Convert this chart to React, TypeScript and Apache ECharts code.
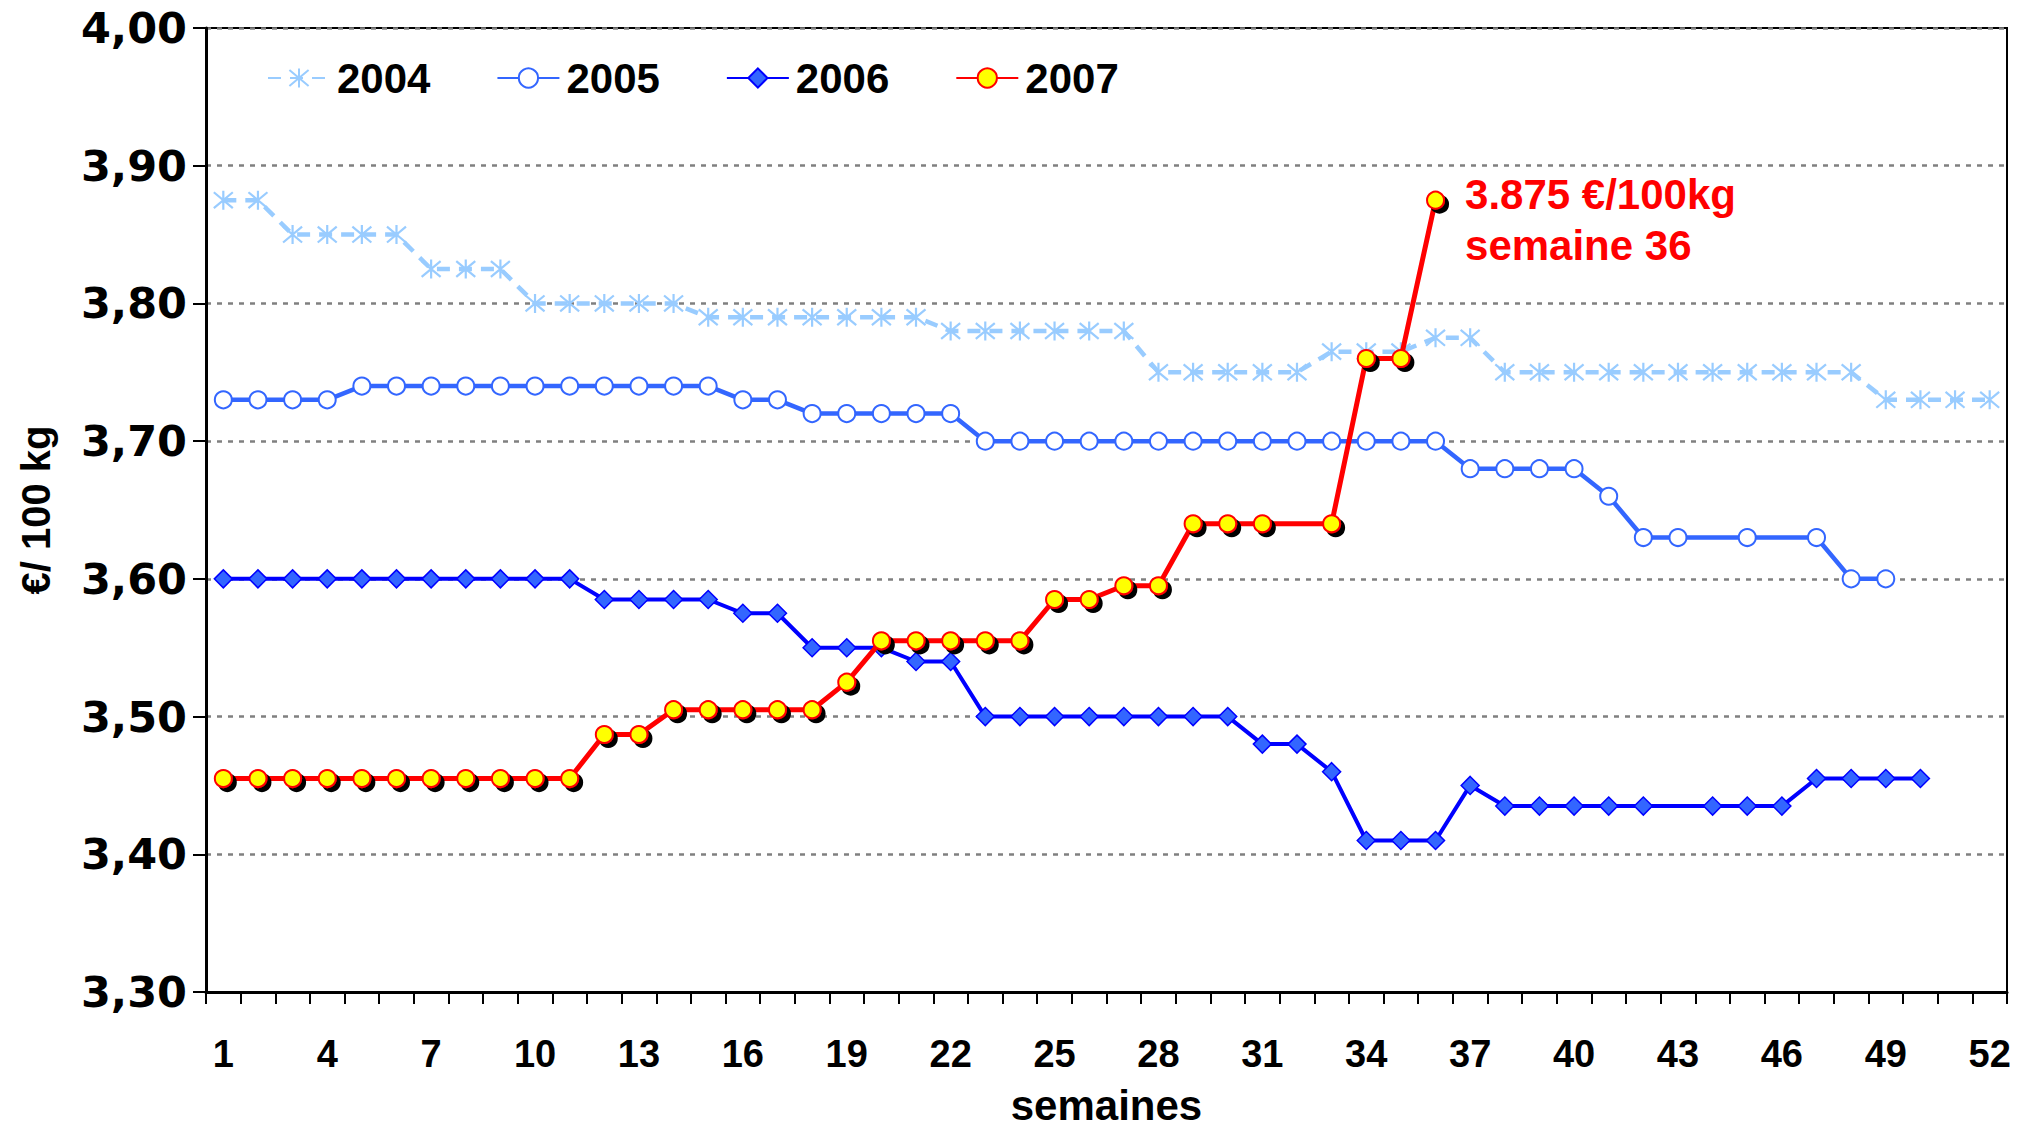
import React, { useEffect, useRef } from "react";
import * as echarts from "echarts";

const weeks = [
  "1", "2", "3", "4", "5", "6", "7", "8", "9", "10", "11", "12", "13",
  "14", "15", "16", "17", "18", "19", "20", "21", "22", "23", "24", "25", "26",
  "27", "28", "29", "30", "31", "32", "33", "34", "35", "36", "37", "38", "39",
  "40", "41", "42", "43", "44", "45", "46", "47", "48", "49", "50", "51", "52",
];

const s2004 = [
  3.875, 3.875, 3.85, 3.85, 3.85, 3.85, 3.825, 3.825, 3.825, 3.8, 3.8, 3.8, 3.8,
  3.8, 3.79, 3.79, 3.79, 3.79, 3.79, 3.79, 3.79, 3.78, 3.78, 3.78, 3.78, 3.78,
  3.78, 3.75, 3.75, 3.75, 3.75, 3.75, 3.765, 3.765, 3.765, 3.775, 3.775, 3.75, 3.75,
  3.75, 3.75, 3.75, 3.75, 3.75, 3.75, 3.75, 3.75, 3.75, 3.73, 3.73, 3.73, 3.73,
];

const s2005 = [
  3.73, 3.73, 3.73, 3.73, 3.74, 3.74, 3.74, 3.74, 3.74, 3.74, 3.74, 3.74, 3.74,
  3.74, 3.74, 3.73, 3.73, 3.72, 3.72, 3.72, 3.72, 3.72, 3.7, 3.7, 3.7, 3.7,
  3.7, 3.7, 3.7, 3.7, 3.7, 3.7, 3.7, 3.7, 3.7, 3.7, 3.68, 3.68, 3.68,
  3.68, 3.66, 3.63, 3.63, null, 3.63, null, 3.63, 3.6, 3.6, null, null, null,
];

const s2006 = [
  3.6, 3.6, 3.6, 3.6, 3.6, 3.6, 3.6, 3.6, 3.6, 3.6, 3.6, 3.585, 3.585,
  3.585, 3.585, 3.575, 3.575, 3.55, 3.55, 3.55, 3.54, 3.54, 3.5, 3.5, 3.5, 3.5,
  3.5, 3.5, 3.5, 3.5, 3.48, 3.48, 3.46, 3.41, 3.41, 3.41, 3.45, 3.435, 3.435,
  3.435, 3.435, 3.435, null, 3.435, 3.435, 3.435, 3.455, 3.455, 3.455, 3.455, null, null,
];

const s2007 = [
  3.455, 3.455, 3.455, 3.455, 3.455, 3.455, 3.455, 3.455, 3.455, 3.455, 3.455, 3.487, 3.487,
  3.505, 3.505, 3.505, 3.505, 3.505, 3.525, 3.555, 3.555, 3.555, 3.555, 3.555, 3.585, 3.585,
  3.595, 3.595, 3.64, 3.64, 3.64, null, 3.64, 3.76, 3.76, 3.875, null, null, null,
  null, null, null, null, null, null, null, null, null, null, null, null, null,
];

const yTicks = { min: 3.3, max: 4.0, interval: 0.1 };
const annotation = ["3.875 €/100kg", "semaine 36"];

const FONT = "'Liberation Sans', Arial, sans-serif";
const ASTERISK = "path://M0,0L10,10M10,0L0,10M5,-1L5,11";

export default function App() {
  const ref = useRef<HTMLDivElement>(null);

  useEffect(() => {
    if (!ref.current) return;
    document.body.style.margin = "0";
    const chart = echarts.init(ref.current, undefined, { renderer: "svg" });

    let lastIdx = -1;
    s2007.forEach((v, i) => {
      if (v !== null) lastIdx = i;
    });
    const data2007 = s2007.map((v, i) =>
      i === lastIdx
        ? {
            value: v,
            label: {
              show: true,
              position: "right",
              distance: 20,
              offset: [0, 20],
              formatter: annotation.join("\n"),
              color: "#FF0000",
              fontFamily: FONT,
              fontWeight: "bold",
              fontSize: 42,
              lineHeight: 51,
              align: "left",
            },
          }
        : v
    );

    chart.setOption({
      animation: false,
      backgroundColor: "#fff",
      grid: {
        left: 206,
        right: 10,
        top: 28,
        bottom: 140,
        containLabel: false,
        outerBoundsMode: "none",
        show: true,
        borderColor: "#000",
        borderWidth: 2,
        backgroundColor: "transparent",
      },
      legend: {
        left: 262,
        top: 52,
        itemWidth: 62,
        itemHeight: 24,
        itemGap: 66,
        textStyle: {
          fontFamily: FONT,
          fontWeight: "bold",
          fontSize: 42,
          color: "#000",
          padding: [0, 0, 0, 2],
        },
        data: ["2004", "2005", "2006", "2007"],
      },
      xAxis: {
        type: "category",
        data: weeks,
        boundaryGap: true,
        name: "semaines",
        nameLocation: "middle",
        nameGap: 96,
        nameTextStyle: {
          fontFamily: FONT,
          fontWeight: "bold",
          fontSize: 42,
          lineHeight: 34,
          color: "#000",
        },
        axisLine: { show: true, lineStyle: { color: "#000", width: 3 } },
        axisTick: {
          show: true,
          interval: 0,
          alignWithLabel: false,
          length: 12,
          lineStyle: { color: "#000", width: 2 },
        },
        axisLabel: {
          interval: 2,
          margin: 43,
          fontFamily: FONT,
          fontWeight: "bold",
          fontSize: 38,
          color: "#000",
        },
        splitLine: { show: false },
      },
      yAxis: {
        type: "value",
        min: yTicks.min,
        max: yTicks.max,
        interval: yTicks.interval,
        name: "€/ 100 kg",
        nameLocation: "middle",
        nameGap: 150,
        nameRotate: 90,
        nameTextStyle: {
          fontFamily: FONT,
          fontWeight: "bold",
          fontSize: 40,
          color: "#000",
        },
        axisLine: { show: true, lineStyle: { color: "#000", width: 3 } },
        axisTick: {
          show: true,
          length: 13,
          lineStyle: { color: "#000", width: 2 },
        },
        axisLabel: {
          margin: 19,
          fontFamily: "'DejaVu Sans', sans-serif",
          fontWeight: "bold",
          fontSize: 43,
          color: "#000",
          formatter: (v: number) => v.toFixed(2).replace(".", ","),
        },
        splitLine: {
          show: true,
          lineStyle: { color: "#808080", width: 2.5, type: [5, 6] },
        },
      },
      series: [
        {
          name: "2004",
          type: "line",
          data: s2004,
          connectNulls: true,
          symbol: ASTERISK,
          symbolSize: 19,
          showAllSymbol: true,
          lineStyle: { color: "#99CCFF", width: 4.5, type: [13, 9] },
          itemStyle: { color: "#99CCFF", borderColor: "#99CCFF", borderWidth: 2.2 },
          z: 2,
        },
        {
          name: "2005",
          type: "line",
          data: s2005,
          connectNulls: true,
          symbol: "circle",
          symbolSize: 17,
          showAllSymbol: true,
          lineStyle: { color: "#3366FF", width: 4.5 },
          itemStyle: { color: "#FFFFFF", borderColor: "#3366FF", borderWidth: 2 },
          z: 3,
        },
        {
          name: "2006",
          type: "line",
          data: s2006,
          connectNulls: true,
          symbol: "diamond",
          symbolSize: [18, 18],
          showAllSymbol: true,
          lineStyle: { color: "#0000FF", width: 4 },
          itemStyle: { color: "#3366FF", borderColor: "#0000FF", borderWidth: 1.5 },
          z: 4,
        },
        {
          name: "2007",
          type: "line",
          data: data2007,
          connectNulls: true,
          symbol: "circle",
          symbolSize: 17,
          showAllSymbol: true,
          lineStyle: { color: "#FF0000", width: 5 },
          itemStyle: {
            color: "#FFFF00",
            borderColor: "#FF0000",
            borderWidth: 2,
            shadowColor: "#000",
            shadowBlur: 1,
            shadowOffsetX: 4,
            shadowOffsetY: 4,
          },
          z: 5,
        },
      ],
    });

    return () => chart.dispose();
  }, []);

  return <div ref={ref} style={{ width: 2017, height: 1132 }} />;
}
